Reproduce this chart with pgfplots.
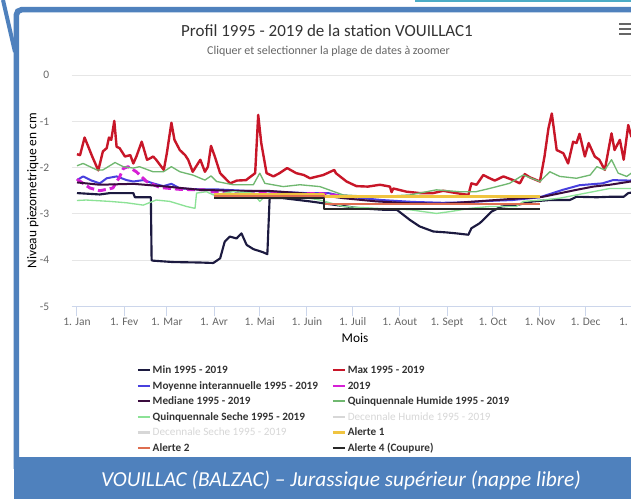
\documentclass[border=0pt]{standalone}
\usepackage{fontspec}
\setmainfont{Carlito}
\usepackage{pgfplots}
\pgfplotsset{compat=1.18}
\definecolor{framecol}{RGB}{79,129,189}
\definecolor{cyancol}{RGB}{75,172,198}
\definecolor{titlecol}{RGB}{51,51,51}
\definecolor{labelcol}{RGB}{102,102,102}
\definecolor{gridcol}{RGB}{230,230,230}
\definecolor{axiscol}{RGB}{204,214,235}
\definecolor{mincol}{RGB}{28,26,64}
\definecolor{maxcol}{RGB}{200,22,40}
\definecolor{moycol}{RGB}{72,64,222}
\definecolor{yrcol}{RGB}{214,32,214}
\definecolor{medcol}{RGB}{58,12,62}
\definecolor{qhcol}{RGB}{112,184,112}
\definecolor{qscol}{RGB}{140,226,150}
\definecolor{deccol}{RGB}{215,215,215}
\definecolor{a1col}{RGB}{240,196,64}
\definecolor{a2col}{RGB}{222,110,80}
\definecolor{a4col}{RGB}{40,40,40}

\begin{document}
\begin{tikzpicture}[x=0.75pt,y=0.75pt]
\useasboundingbox (0,0) rectangle (631,499);
\fill[white] (0,0) rectangle (631,499);
% screenshot frame
\draw[cyancol,line width=2pt] (415,498.2) -- (640,498.2);
\draw[framecol,line width=3pt] (3,499) -- (15,447);
\draw[framecol,line width=4.2pt,rounded corners=4pt] (16.3,30) -- (16.3,489.3) -- (645,489.3);
\fill[framecol] (13.5,0) rectangle (631,42);
% menu icon
\foreach \yy in {475,470,465} \draw[labelcol,line width=1.5pt] (619,\yy) -- (633,\yy);

\begin{axis}[
  at={(54pt,144.375pt)}, anchor=south west,
  scale only axis, width=424.5pt, height=173.6pt,
  xmin=-3.28, xmax=368.4, ymin=-5, ymax=0,
  axis x line*=bottom, axis y line*=left,
  y axis line style={draw=none},
  x axis line style={draw=axiscol,line width=0.75pt},
  ytick={-5,-4,-3,-2,-1,0},
  yticklabels={-5,-4,-3,-2,-1,0},
  ytick style={draw=none},
  xtick={0,31,59,90,120,151,181,212,243,273,304,334,365},
  xticklabels={1. Jan,1. Fev,1. Mar,1. Avr,1. Mai,1. Juin,1. Juil,1. Aout,1. Sept,1. Oct,1. Nov,1. Dec,1. Jan},
  xtick style={draw=axiscol,line width=0.75pt},
  tick align=outside, major tick length=7.5pt,
  ymajorgrids, grid style={draw=gridcol,line width=0.75pt},
  ticklabel style={font=\fontsize{8.6}{10}\selectfont,text=labelcol},
  xticklabel style={anchor=north,yshift=2.6pt},
  yticklabel style={anchor=east,xshift=-6pt},
  xlabel={Mois},
  ylabel={Niveau piezometrique en cm},
  label style={font=\fontsize{9.2}{11}\selectfont,text=labelcol},
  every axis x label/.style={at={(axis description cs:0.5,-0.136)},anchor=center},
  every axis y label/.style={at={(axis description cs:-0.069,0.5)},anchor=center,rotate=90},
  line join=round,
  legend columns=2, legend cell align=left,
  legend image code/.code={\draw[#1,solid,line width=1.6pt] (0pt,0pt) -- (9pt,0pt);},
  legend style={at={(0.114,-0.24)},anchor=north west,draw=none,fill=none,
    font=\bfseries\fontsize{8.4}{9}\selectfont,text=titlecol,inner sep=0pt,
    nodes={inner sep=1.35pt,text height=7pt,text depth=2pt},
    /tikz/every even column/.append style={column sep=9pt}},
]
\addplot[mincol,line width=1.6pt] coordinates {
(0,-2.55) (15,-2.58) (21.7,-2.55) (37,-2.55) (38,-2.64) (48.5,-2.64) (49,-4.00)
(50,-4.01) (63,-4.04) (80.7,-4.05) (89.5,-4.06) (94,-3.96) (97,-3.60) (100.4,-3.49)
(104.8,-3.53) (108,-3.42) (111.4,-3.67) (115.8,-3.76) (122.3,-3.83) (125,-3.87)
(126.5,-2.66) (135.4,-2.66) (153,-2.73) (164,-2.78) (186,-2.88) (201,-2.91) (210,-2.91)
(218.6,-3.13) (225,-3.27) (234,-3.38) (242.7,-3.40) (249,-3.42) (257,-3.45) (259,-3.31)
(264.5,-3.20) (268,-3.09) (272.2,-2.95) (278.8,-2.84) (288.5,-2.81) (299.5,-2.73)
(310.5,-2.70) (323.6,-2.70) (328,-2.63) (341.4,-2.64) (350,-2.63) (359,-2.63)
(362,-2.55) (368,-2.52)};
\addlegendentry{Min 1995 - 2019}
\addplot[maxcol,line width=1.8pt] coordinates {
(0,-1.71) (2,-1.73) (5,-1.35) (10,-1.76) (14,-2.06) (17,-1.65) (19.5,-1.58) (21,-1.35)
(22.5,-1.40) (24.5,-0.99) (26,-1.55) (28,-1.58) (31.5,-1.76) (35,-1.73) (37,-1.91)
(39,-1.76) (42.5,-1.44) (46,-1.83) (48,-1.80) (50,-1.76) (52,-1.83) (57,-2.05)
(59,-1.69) (62,-1.03) (64,-1.40) (67.5,-1.62) (71,-1.73) (73,-1.83) (76,-2.09)
(81,-1.83) (84,-2.09) (86,-1.98) (88,-1.53) (90.5,-1.76) (94,-2.12) (100.5,-2.34)
(105,-2.28) (111,-2.27) (117,-2.12) (119,-0.86) (121,-1.47) (124.5,-2.12) (129,-2.19)
(133,-2.12) (138,-2.01) (144,-2.12) (149,-2.16) (153,-2.23) (161.7,-2.16) (169,-2.05)
(170,-2.12) (177,-2.30) (183.5,-2.40) (191,-2.41) (199,-2.37) (205.5,-2.41)
(206.6,-2.53) (207.7,-2.45) (216.4,-2.52) (225,-2.55) (233.9,-2.55) (240.5,-2.50)
(249,-2.55) (257,-2.59) (259,-2.34) (262.4,-2.37) (266.8,-2.16) (271,-2.23)
(274.4,-2.28) (280,-2.19) (286.4,-2.27) (290.8,-2.34) (294,-2.14) (297.4,-2.21)
(304,-2.30) (307,-1.76) (309.6,-1.15) (311.8,-0.83) (315,-1.62) (319.4,-1.69)
(322.5,-1.91) (325.8,-1.44) (328,-1.47) (330,-1.27) (333.5,-1.76) (336,-1.47)
(340,-1.76) (343,-1.83) (346.6,-2.05) (351,-1.26) (353,-1.62) (356.5,-1.40)
(359,-1.83) (362,-1.08) (364,-1.33) (367,-1.10)};
\addlegendentry{Max 1995 - 2019}
\addplot[moycol,line width=1.5pt] coordinates {
(0,-2.27) (4,-2.19) (9.6,-2.28) (15,-2.34) (19.5,-2.23) (26,-2.19) (32.6,-2.27)
(37,-2.30) (43.5,-2.27) (50,-2.34) (56.7,-2.40) (62,-2.35) (67.6,-2.45) (80.7,-2.47)
(91.7,-2.47) (110,-2.50) (130,-2.52) (150,-2.55) (165,-2.55) (175,-2.62) (200,-2.70)
(220,-2.74) (240,-2.76) (255,-2.75) (270,-2.72) (286,-2.70) (304,-2.64) (319,-2.48)
(330,-2.38) (345,-2.34) (352,-2.27) (363,-2.28) (368,-2.25)};
\addlegendentry{Moyenne interannuelle 1995 - 2019}
\addplot[yrcol,line width=2.2pt,dash pattern=on 6pt off 3pt] coordinates {
(0,-2.25) (8.5,-2.44) (15,-2.50) (23.6,-2.44) (28,-2.20) (30.4,-2.02) (33.5,-1.98)
(39,-2.09) (45.7,-2.30) (54.5,-2.43) (67.6,-2.47) (83,-2.48) (87,-2.52) (100,-2.55)
(120,-2.56) (140,-2.56) (160,-2.56) (170,-2.60) (178,-2.62)};
\addlegendentry{2019}
\addplot[medcol,line width=1.5pt] coordinates {
(0,-2.32) (15,-2.37) (37,-2.35) (59,-2.41) (80.7,-2.48) (102.6,-2.50) (124.5,-2.50)
(146.4,-2.55) (159.5,-2.59) (174.8,-2.66) (196.8,-2.73) (218.6,-2.77) (240.5,-2.78)
(262,-2.73) (284,-2.68) (306,-2.63) (328,-2.48) (339,-2.41) (350,-2.37) (363.6,-2.30)
(368,-2.28)};
\addlegendentry{Mediane 1995 - 2019}
\addplot[qhcol,line width=1pt] coordinates {
(0,-1.96) (4,-1.91) (13,-2.05) (17,-2.05) (25,-1.89) (30.4,-1.98) (37,-2.01) (41,-1.98)
(50,-2.09) (56.7,-2.09) (62,-1.98) (67.6,-2.09) (76,-2.16) (84,-2.27) (88,-2.18)
(91.7,-2.30) (102.6,-2.37) (115.8,-2.37) (120,-2.12) (123.4,-2.34) (135.4,-2.41)
(146.4,-2.37) (159.5,-2.41) (174.8,-2.59) (196.8,-2.63) (218.6,-2.59) (236,-2.48)
(251,-2.52) (262,-2.52) (271,-2.45) (284,-2.34) (293,-2.16) (304,-2.30) (310.5,-2.09)
(317,-2.19) (328,-2.23) (337,-2.16) (341.4,-1.98) (346.6,-2.05) (351,-1.83)
(355.4,-2.12) (361,-2.19) (364,-2.12) (368,-2.00)};
\addlegendentry{Quinquennale Humide 1995 - 2019}
\addplot[qscol,line width=1pt] coordinates {
(0,-2.71) (6,-2.70) (21.7,-2.73) (32.6,-2.76) (43.5,-2.81) (52,-2.70) (61,-2.73)
(72,-2.84) (77.5,-2.88) (78.5,-2.55) (85,-2.52) (89.5,-2.59) (102.6,-2.52)
(115.8,-2.55) (120,-2.73) (124.5,-2.59) (146.4,-2.63) (159.5,-2.70) (174.8,-2.84)
(196.8,-2.88) (218.6,-2.91) (236,-2.99) (245,-2.95) (258,-2.88) (271,-2.84)
(288.5,-2.84) (293,-2.73) (306,-2.70) (317,-2.66) (328,-2.59) (339,-2.52) (350,-2.45)
(364,-2.45) (368,-2.40)};
\addlegendentry{Quinquennale Seche 1995 - 2019}
\addlegendimage{deccol}
\addlegendentry[text=deccol,font=\fontsize{8.4}{9}\selectfont]{Decennale Humide 1995 - 2019}
\addlegendimage{deccol}
\addlegendentry[text=deccol,font=\fontsize{8.4}{9}\selectfont]{Decennale Seche 1995 - 2019}
\addplot[a1col,line width=2.2pt] coordinates {
(90,-2.57) (162,-2.57) (162,-2.63) (304,-2.63)};
\addlegendentry{Alerte 1}
\addplot[a2col,line width=1.5pt] coordinates {
(90,-2.61) (162,-2.61) (162,-2.78) (304,-2.78)};
\addlegendentry{Alerte 2}
\addplot[a4col,line width=1.5pt] coordinates {
(90,-2.65) (162,-2.65) (162,-2.90) (304,-2.90)};
\addlegendentry{Alerte 4 (Coupure)}
\end{axis}

\node[text=titlecol,font=\fontsize{12.75}{15}\selectfont] at (327,468) {Profil 1995 - 2019 de la station VOUILLAC1};
\node[text=labelcol,font=\fontsize{9}{11}\selectfont] at (328.5,448) {Cliquer et selectionner la plage de dates à zoomer};
\node[text=white,font=\itshape\fontsize{16}{19}\selectfont] at (341,19) {VOUILLAC (BALZAC) – Jurassique supérieur (nappe libre)};
\end{tikzpicture}
\end{document}
